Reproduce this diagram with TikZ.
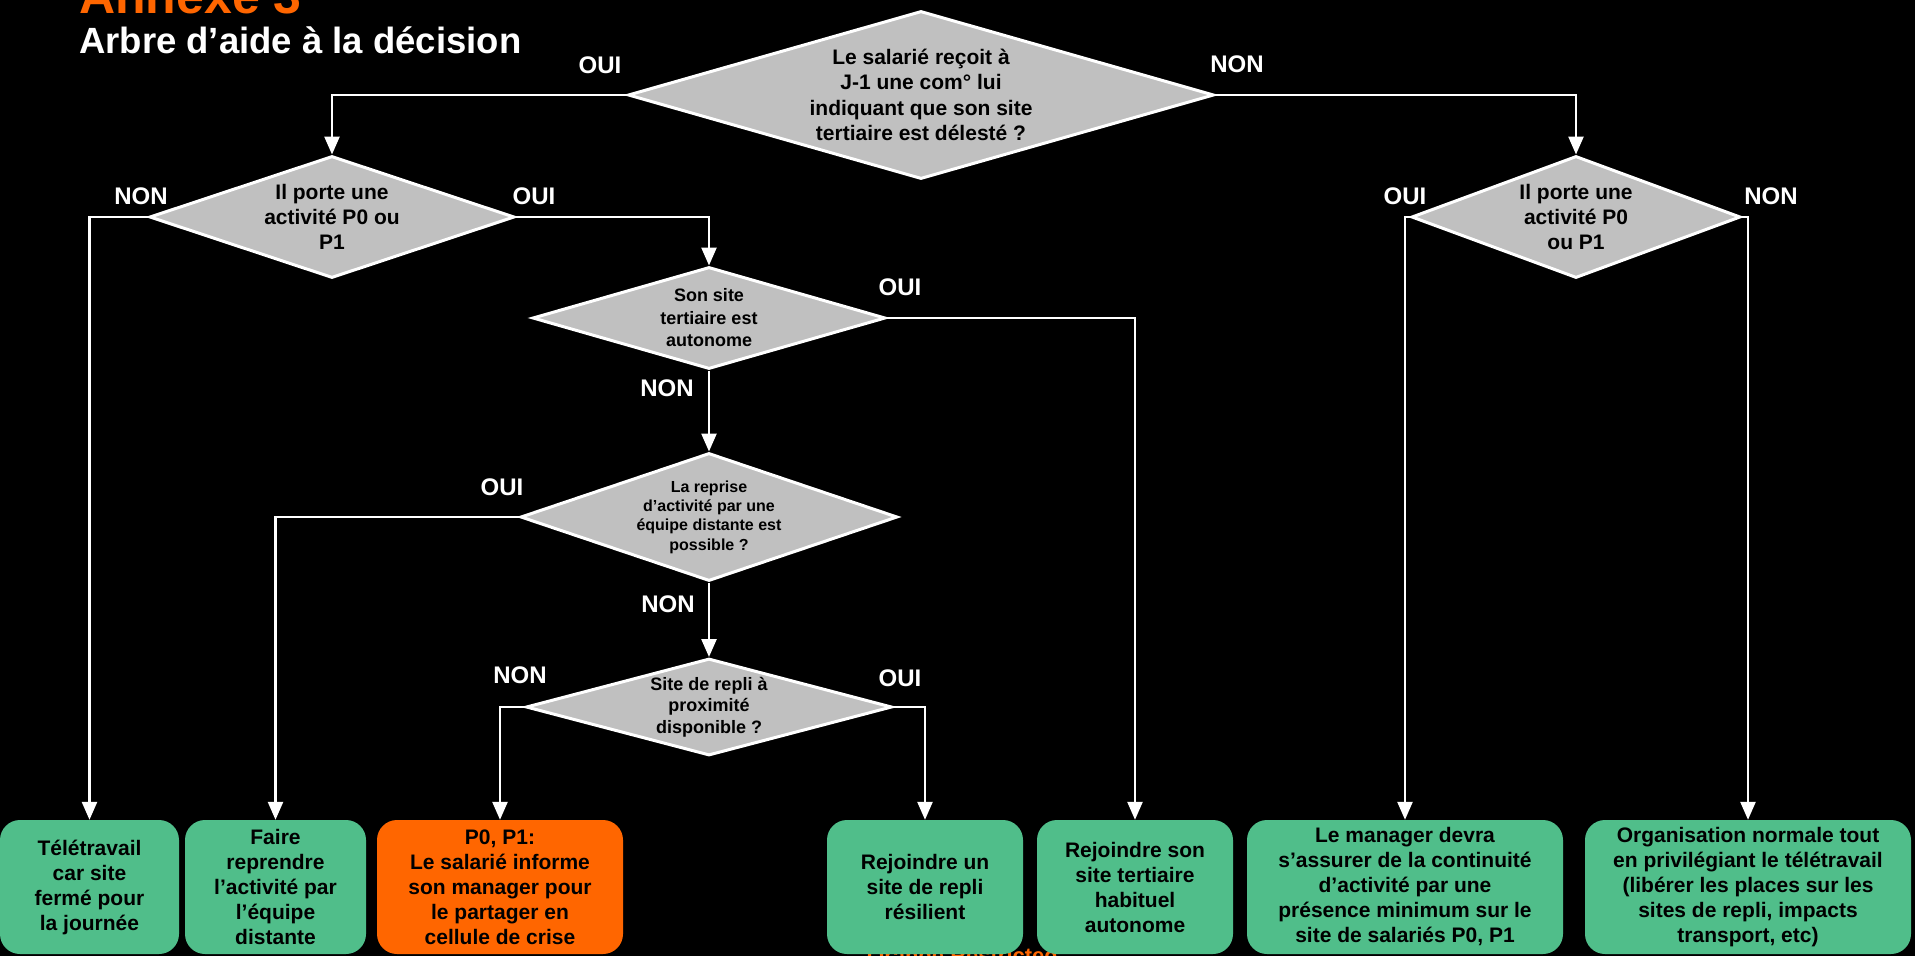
\documentclass[tikz,border=0pt]{standalone}
\usepackage{fontspec}
\setmainfont{Liberation Sans}
\usetikzlibrary{shapes.geometric,arrows.meta}

\definecolor{orangefr}{RGB}{255,102,0}
\definecolor{boxgreen}{RGB}{80,190,138}
\definecolor{askgrey}{RGB}{192,192,192}

\newcommand\boxfont{\fontsize{21}{25}\selectfont\bfseries}
\newcommand\answerfont{\fontsize{24}{24}\selectfont\bfseries}

\begin{document}
\begin{tikzpicture}[x=1pt,y=-1pt,>={Triangle[width=15pt,length=18pt]},
    ask/.style={diamond,draw=white,line width=3pt,fill=askgrey,text=black,
      inner sep=0pt,align=center},
    verdict/.style={fill=boxgreen,rounded corners=20pt,text=black,inner sep=0pt,
      align=center,minimum height=134pt,font=\boxfont},
    answer/.style={text=white,inner sep=0pt,font=\answerfont},
    flow/.style={draw=white,line width=2.5pt,->}]
  \useasboundingbox (0,0) rectangle (1915,956);
  \clip (0,0) rectangle (1915,956);
  \fill[black] (0,0) rectangle (1915,956);

  % Heading, cut off by the top of the slide.
  \node[anchor=base west,inner sep=0pt,text=orangefr,
    font=\fontsize{50}{50}\selectfont\bfseries] (annexe) at (79,13) {Annexe 3};
  \node[anchor=base west,inner sep=0pt,text=white,
    font=\fontsize{36.5}{36.5}\selectfont\bfseries] (subtitle) at (79,53)
    {Arbre d’aide à la décision};

  % Classification mark, mostly hidden behind the boxes.
  \node[anchor=north west,inner sep=0pt,text=orangefr,
    font=\fontsize{22}{22}\selectfont\bfseries] (mark) at (867,947)
    {Orange Restricted};

  % The questions.
  \node[ask,aspect=3.49,minimum width=586pt,minimum height=168pt,
    font=\fontsize{21}{25.3}\selectfont\bfseries] (q1) at (921,95)
    {Le salarié reçoit à\\J-1 une com° lui\\indiquant que son site\\tertiaire est délesté ?};
  \node[ask,aspect=2.99,minimum width=365pt,minimum height=122pt,
    font=\fontsize{21}{25}\selectfont\bfseries] (q2l) at (332,217)
    {Il porte une\\activité P0 ou\\P1};
  \node[ask,aspect=2.70,minimum width=329pt,minimum height=122pt,
    font=\fontsize{21}{25}\selectfont\bfseries] (q2r) at (1576,217)
    {Il porte une\\activité P0\\ou P1};
  \node[ask,aspect=3.46,minimum width=353pt,minimum height=102pt,
    font=\fontsize{18}{22.5}\selectfont\bfseries] (q3) at (709,318)
    {Son site\\tertiaire est\\autonome};
  \node[ask,aspect=2.95,minimum width=377pt,minimum height=128pt,
    font=\fontsize{16}{19.3}\selectfont\bfseries] (q4) at (709,517)
    {La reprise\\d’activité par une\\équipe distante est\\possible ?};
  \node[ask,aspect=3.77,minimum width=366pt,minimum height=97pt,
    font=\fontsize{18}{21.5}\selectfont\bfseries] (q5) at (709,707)
    {Site de repli à\\proximité\\disponible ?};

  % The outcomes along the bottom.
  \node[verdict,minimum width=179pt] (b1) at (89.5,887)
    {Télétravail\\car site\\fermé pour\\la journée};
  \node[verdict,minimum width=181pt] (b2) at (275.5,887)
    {Faire\\reprendre\\l’activité par\\l’équipe\\distante};
  \node[verdict,fill=orangefr,minimum width=246pt] (b3) at (500,887)
    {P0, P1:\\Le salarié informe\\son manager pour\\le partager en\\cellule de crise};
  \node[verdict,minimum width=196pt] (b4) at (925,887)
    {Rejoindre un\\site de repli\\résilient};
  \node[verdict,minimum width=196pt] (b5) at (1135,887)
    {Rejoindre son\\site tertiaire\\habituel\\autonome};
  \node[verdict,minimum width=316pt] (b6) at (1405,887)
    {Le manager devra\\s’assurer de la continuité\\d’activité par une\\présence minimum sur le\\site de salariés P0, P1};
  \node[verdict,minimum width=326pt] (b7) at (1748,887)
    {Organisation normale tout\\en privilégiant le télétravail\\(libérer les places sur les\\sites de repli, impacts\\transport, etc)};

  % Branches.
  \draw[flow] (q1.west) -| (q2l.north);
  \draw[flow] (q1.east) -| (q2r.north);
  \draw[flow] (q2l.west) -| (b1.north);
  \draw[flow] (q2l.east) -| (q3.north);
  \draw[flow] (q3.east) -| (b5.north);
  \draw[flow] (q3.south) -- (q4.north);
  \draw[flow] (q4.west) -| (b2.north);
  \draw[flow] (q4.south) -- (q5.north);
  \draw[flow] (q5.west) -| (b3.north);
  \draw[flow] (q5.east) -| (b4.north);
  \draw[flow] (q2r.west) -| (b6.north);
  \draw[flow] (q2r.east) -| (b7.north);

  % Answer labels.
  \node[answer] (q1oui) at (600,65) {OUI};
  \node[answer] (q1non) at (1237,64) {NON};
  \node[answer] (q2lnon) at (141,196) {NON};
  \node[answer] (q2loui) at (534,196) {OUI};
  \node[answer] (q2roui) at (1405,196) {OUI};
  \node[answer] (q2rnon) at (1771,196) {NON};
  \node[answer] (q3oui) at (900,287) {OUI};
  \node[answer] (q3non) at (667,388) {NON};
  \node[answer] (q4oui) at (502,487) {OUI};
  \node[answer] (q4non) at (668,604) {NON};
  \node[answer] (q5non) at (520,675) {NON};
  \node[answer] (q5oui) at (900,678) {OUI};
\end{tikzpicture}
\end{document}
